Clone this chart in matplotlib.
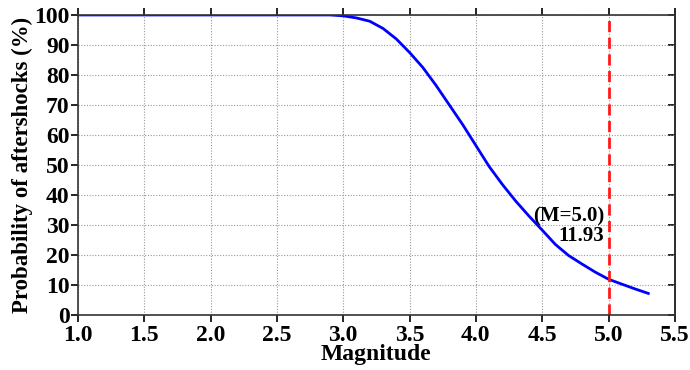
import matplotlib
matplotlib.use("Agg")
import matplotlib.pyplot as plt

# Magnitude vs. probability of aftershocks (%)
magnitude = [1.0, 1.1, 1.2, 1.3, 1.4, 1.5, 1.6, 1.7, 1.8, 1.9,
             2.0, 2.1, 2.2, 2.3, 2.4, 2.5, 2.6, 2.7, 2.8, 2.9,
             3.0, 3.1, 3.2, 3.3, 3.4, 3.5, 3.6, 3.7, 3.8, 3.9,
             4.0, 4.1, 4.2, 4.3, 4.4, 4.5, 4.6, 4.7, 4.8, 4.9,
             5.0, 5.1, 5.2, 5.3]
probability = [100, 100, 100, 100, 100, 100, 100, 100, 100, 100,
               100, 100, 100, 100, 100, 100, 100, 100, 100, 100,
               99.7, 99.0, 97.9, 95.5, 92.0, 87.5, 82.5, 76.5, 70.0, 63.5,
               56.5, 49.5, 43.5, 38.0, 33.0, 28.3, 23.5, 19.8, 17.0, 14.3,
               11.93, 10.3, 8.7, 7.2]
target_m = 5.0
target_p = 11.93
x_ticks = [1.0, 1.5, 2.0, 2.5, 3.0, 3.5, 4.0, 4.5, 5.0, 5.5]
y_ticks = list(range(0, 101, 10))

plt.rcParams["font.family"] = ["Liberation Serif", "DejaVu Serif"]
plt.rcParams["font.weight"] = "bold"

fig = plt.figure(figsize=(6.9, 3.7), dpi=100)
ax = fig.add_axes([0.113, 0.1486, 0.865, 0.811])

ax.plot(magnitude, probability, color="#0000ff", lw=2)
ax.axvline(target_m, color="#ff1a1a", lw=2, ls=(0, (4, 2)))
ax.text(target_m - 0.03, 29.5, f"(M={target_m:.1f})\n{target_p:.2f}",
        ha="right", va="center", ma="right", fontsize=15,
        fontweight="bold", linespacing=0.95)

ax.set_xlim(1.0, 5.5)
ax.set_ylim(0, 100)
ax.set_xticks(x_ticks)
ax.set_xticklabels([f"{v:.1f}" for v in x_ticks])
ax.set_yticks(y_ticks)
ax.grid(True, color="#999999", ls=(0, (1, 1.5)), lw=0.8)

ax.tick_params(axis="both", labelsize=17, width=1.2, length=5,
               direction="out", top=True, pad=2)
ax.tick_params(axis="y", pad=1)
for s in ax.spines.values():
    s.set_linewidth(1.2)
    s.set_color("#333333")

right = ax.secondary_yaxis("right")
right.set_yticks(y_ticks)
right.tick_params(direction="in", length=5, width=1.2, labelright=False)
right.spines["right"].set_linewidth(1.2)

ax.set_xlabel("Magnitude", fontsize=17, fontweight="bold", labelpad=-1)
ax.set_ylabel("Probability of aftershocks (%)", fontsize=16.5,
              fontweight="bold", labelpad=1)

fig.savefig("out.png", dpi=100)
